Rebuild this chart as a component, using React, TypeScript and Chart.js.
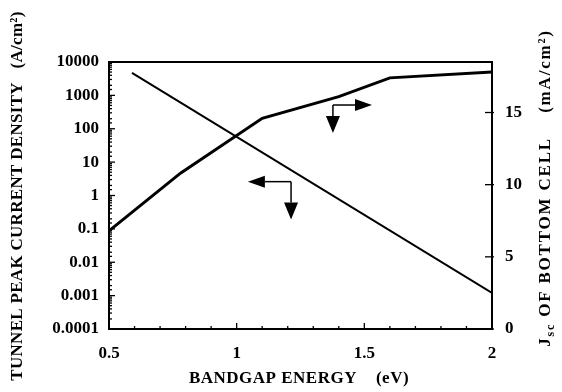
import React, { useEffect, useRef } from "react";
import { Chart, registerables } from "chart.js";

Chart.register(...registerables);

// ---- data ----
const tunnelBandgap = [0.59, 2.0];
const tunnelPeakDensity = [4700, 0.0012];

const jscBandgap = [0.5, 0.78, 1.1, 1.4, 1.6, 2.0];
const jscBottomCell = [6.8, 10.8, 14.6, 16.1, 17.4, 17.8];

const xTickLabels = ["0.5", "1", "1.5", "2"];
const leftTickLabels = ["0.0001", "0.001", "0.01", "0.1", "1", "10", "100", "1000", "10000"];
const rightTicks = [0, 5, 10, 15];

// annotation arrows (data coordinates on the named axis)
const tunnelArrow = { corner: [1.213, 2.6], horizTip: 1.044, vertTip: 0.19, axis: "y" };
const jscArrow = { corner: [1.377, 15.52], horizTip: 1.53, vertTip: 13.58, axis: "y2" };

const FONT = "'Liberation Serif', 'DejaVu Serif', serif";

export default function App() {
  const ref = useRef<HTMLCanvasElement | null>(null);

  useEffect(() => {
    document.body.style.margin = "0";
    const canvas = ref.current!;

    const framePlugin = {
      id: "framePlugin",
      beforeDraw(chart: any) {
        const ctx = chart.ctx;
        ctx.save();
        ctx.fillStyle = "#fff";
        ctx.fillRect(0, 0, chart.width, chart.height);
        ctx.restore();
      },
      afterDraw(chart: any) {
        const ctx = chart.ctx;
        const a = chart.chartArea;
        const xs = chart.scales.x;
        const ys = chart.scales.y;
        const y2 = chart.scales.y2;
        ctx.save();
        ctx.strokeStyle = "#000";
        ctx.lineWidth = 2;
        ctx.strokeRect(a.left, a.top, a.right - a.left, a.bottom - a.top);

        ctx.lineWidth = 1.3;
        xs.ticks.forEach((t: any) => {
          const px = xs.getPixelForValue(t.value);
          const major = Math.abs(t.value * 2 - Math.round(t.value * 2)) < 1e-6;
          const len = major ? 6 : 3;
          ctx.beginPath();
          ctx.moveTo(px, a.bottom);
          ctx.lineTo(px, a.bottom - len);
          ctx.stroke();
        });
        ys.ticks.forEach((t: any) => {
          const py = ys.getPixelForValue(t.value);
          const l = Math.log10(t.value);
          const major = Math.abs(l - Math.round(l)) < 1e-6;
          const len = major ? 6 : 3;
          ctx.beginPath();
          ctx.moveTo(a.left, py);
          ctx.lineTo(a.left + len, py);
          ctx.stroke();
        });
        y2.ticks.forEach((t: any) => {
          const py = y2.getPixelForValue(t.value);
          ctx.beginPath();
          ctx.moveTo(a.right - 7, py);
          ctx.lineTo(a.right + 2, py);
          ctx.stroke();
        });

        const drawArrow = (arr: any, dir: "left" | "right") => {
          const yScale = chart.scales[arr.axis];
          const cx = xs.getPixelForValue(arr.corner[0]);
          const cy = yScale.getPixelForValue(arr.corner[1]);
          const hx = xs.getPixelForValue(arr.horizTip);
          const vy = yScale.getPixelForValue(arr.vertTip);
          const hl = 17;
          const hw = 7;
          ctx.lineWidth = 1.5;
          ctx.fillStyle = "#000";
          const sign = dir === "left" ? -1 : 1;
          ctx.beginPath();
          ctx.moveTo(cx, cy);
          ctx.lineTo(hx - sign * hl, cy);
          ctx.stroke();
          ctx.beginPath();
          ctx.moveTo(hx, cy);
          ctx.lineTo(hx - sign * hl, cy - hw + 1);
          ctx.lineTo(hx - sign * hl, cy + hw - 1);
          ctx.closePath();
          ctx.fill();
          ctx.beginPath();
          ctx.moveTo(cx, cy);
          ctx.lineTo(cx, vy - hl);
          ctx.stroke();
          ctx.beginPath();
          ctx.moveTo(cx, vy);
          ctx.lineTo(cx - hw, vy - hl);
          ctx.lineTo(cx + hw, vy - hl);
          ctx.closePath();
          ctx.fill();
        };
        drawArrow(tunnelArrow, "left");
        drawArrow(jscArrow, "right");

        // titles
        ctx.fillStyle = "#000";
        ctx.textBaseline = "middle";
        ctx.textAlign = "center";
        ctx.font = `bold 17px ${FONT}`;
        (ctx as any).letterSpacing = "0.5px";
        ctx.fillText("BANDGAP ENERGY    (eV)", 299, 379);

        ctx.save();
        ctx.translate(18, 196);
        ctx.rotate(-Math.PI / 2);
        ctx.font = `bold 17px ${FONT}`;
        (ctx as any).letterSpacing = "0.3px";
        ctx.fillText("TUNNEL PEAK CURRENT DENSITY   (A/cm\u00B2)", 0, 0);
        ctx.restore();

        ctx.save();
        ctx.translate(546, 188);
        ctx.rotate(-Math.PI / 2);
        ctx.textAlign = "left";
        (ctx as any).letterSpacing = "1.8px";
        const big = `bold 17px ${FONT}`;
        const small = `bold 12px ${FONT}`;
        const p1 = "J";
        const p2 = "sc";
        const p3 = " OF BOTTOM CELL    (mA/cm\u00B2)";
        ctx.font = big;
        const w1 = ctx.measureText(p1).width;
        const w3 = ctx.measureText(p3).width;
        ctx.font = small;
        const w2 = ctx.measureText(p2).width;
        let x0 = -(w1 + w2 + w3) / 2;
        ctx.font = big;
        ctx.fillText(p1, x0, 0);
        x0 += w1;
        ctx.font = small;
        ctx.fillText(p2, x0, 5);
        x0 += w2;
        ctx.font = big;
        ctx.fillText(p3, x0, 0);
        ctx.restore();

        ctx.restore();
      },
    };

    const chart = new Chart(canvas, {
      type: "line",
      data: {
        datasets: [
          {
            label: "Tunnel peak current density",
            data: tunnelBandgap.map((x, i) => ({ x, y: tunnelPeakDensity[i] })),
            yAxisID: "y",
            borderColor: "#000",
            borderWidth: 2,
            pointRadius: 0,
            tension: 0,
          },
          {
            label: "Jsc of bottom cell",
            data: jscBandgap.map((x, i) => ({ x, y: jscBottomCell[i] })),
            yAxisID: "y2",
            borderColor: "#000",
            borderWidth: 3,
            pointRadius: 0,
            tension: 0,
          },
        ],
      },
      options: {
        animation: false,
        responsive: false,
        layout: { padding: { top: 62, left: 0, right: 0, bottom: 0 } },
        plugins: { legend: { display: false }, tooltip: { enabled: false } },
        scales: {
          x: {
            type: "linear",
            min: 0.5,
            max: 2,
            grid: { display: false, drawTicks: false },
            border: { display: false },
            ticks: {
              stepSize: 0.1,
              autoSkip: false,
              maxRotation: 0,
              padding: 14,
              color: "#000",
              font: { family: FONT, size: 17, weight: "bold" },
              callback: (v: any) => {
                const idx = Math.round((Number(v) - 0.5) * 2);
                if (Math.abs((Number(v) - 0.5) * 2 - idx) < 1e-6) return xTickLabels[idx] ?? "";
                return "";
              },
            },
            afterFit: (s: any) => {
              s.height = 63;
            },
          },
          y: {
            type: "logarithmic",
            position: "left",
            min: 0.0001,
            max: 10000,
            grid: { display: false, drawTicks: false },
            border: { display: false },
            ticks: {
              autoSkip: false,
              padding: 10,
              color: "#000",
              font: { family: FONT, size: 17, weight: "bold" },
              callback: (v: any) => {
                const l = Math.log10(Number(v));
                const r = Math.round(l);
                if (Math.abs(l - r) < 1e-6) return leftTickLabels[r + 4] ?? "";
                return "";
              },
            },
            afterFit: (s: any) => {
              s.width = 109;
            },
          },
          y2: {
            type: "linear",
            position: "right",
            min: 0,
            max: 18.5,
            grid: { display: false, drawTicks: false },
            border: { display: false },
            afterBuildTicks: (s: any) => {
              s.ticks = rightTicks.map((v) => ({ value: v }));
            },
            ticks: {
              padding: 13,
              color: "#000",
              font: { family: FONT, size: 17, weight: "bold" },
              callback: (v: any) => String(v),
            },
            afterFit: (s: any) => {
              s.width = 70;
            },
          },
        },
      },
      plugins: [framePlugin],
    });

    return () => chart.destroy();
  }, []);

  return (
    <div style={{ width: 562, height: 392 }}>
      <canvas ref={ref} width={562} height={392} style={{ display: "block" }} />
    </div>
  );
}
